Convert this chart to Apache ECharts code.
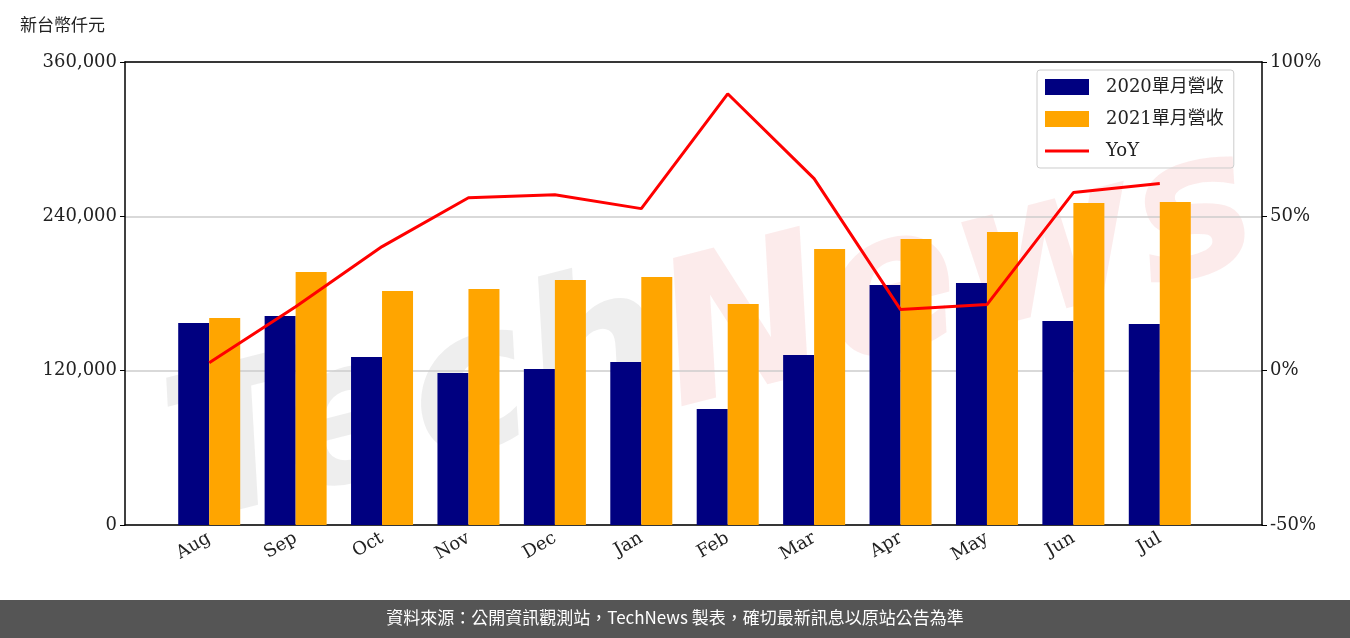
<!DOCTYPE html><html><head><meta charset="utf-8">
<script src="https://cdn.jsdelivr.net/npm/echarts@6/dist/echarts.min.js"></script>
<style>body{margin:0}#c{width:1350px;height:638px}</style></head><body><div id="c"></div>
<script>
const categories=['Aug','Sep','Oct','Nov','Dec','Jan','Feb','Mar','Apr','May','Jun','Jul'];
const rev2020=[157000,162500,130600,118200,121300,126700,90200,132200,186600,188200,158600,156300];
const rev2021=[161000,196700,181900,183500,190500,192800,171800,214600,222400,227800,250400,251100];
const yoy=[2.6,20.7,40.2,56,57,52.5,89.7,62.2,19.8,21.4,57.7,60.6];
const f="'DejaVu Serif','Noto Sans CJK TC',serif";
const c=echarts.init(document.getElementById('c'));
c.setOption({
 animation:false,
 textStyle:{fontFamily:f},
 graphic:[
  {type:'text',left:150,top:250,rotation:0.25,z:-1,style:{text:'Tech',fill:'rgba(120,120,120,0.13)',font:"bold italic 200px 'DejaVu Sans'"}},
  {type:'text',left:640,top:110,rotation:0.25,z:-1,style:{text:'News',fill:'rgba(230,90,90,0.12)',font:"bold italic 200px 'DejaVu Sans'"}},
  {type:'rect',left:0,top:600,shape:{width:1350,height:38},style:{fill:'#555'}},
  {type:'text',left:'center',top:609,style:{text:'資料來源：公開資訊觀測站，TechNews 製表，確切最新訊息以原站公告為準',fill:'#fff',font:"17px 'Noto Sans CJK TC'"}},
  {type:'text',left:20,top:16,style:{text:'新台幣仟元',fill:'#222',font:"17px 'Noto Sans CJK TC'"}}
 ],
 grid:[{left:125,right:88,top:62,bottom:113},{left:166,right:147,top:62,bottom:113}],
 legend:{left:1037,top:70,orient:'vertical',itemWidth:44,itemHeight:16,itemGap:14,borderColor:'#ccc',borderWidth:1,borderRadius:3,padding:[8,10,8,8],
  textStyle:{fontSize:18,fontFamily:"'DejaVu Serif','Noto Sans CJK TC'",color:'#222',padding:[0,0,0,12]},
  data:[{name:'2020單月營收',icon:'rect'},{name:'2021單月營收',icon:'rect'},{name:'YoY',icon:'path://M0,7h44v3h-44z'}]},
 xAxis:[
  {type:'category',gridIndex:0,data:categories,axisTick:{show:false},axisLabel:{show:false},axisLine:{onZero:false,lineStyle:{color:'#000',width:1.5}}},
  {type:'category',gridIndex:0,position:'top',data:categories,axisTick:{show:false},axisLabel:{show:false},axisLine:{onZero:false,lineStyle:{color:'#000',width:1.5}}},
  {type:'category',gridIndex:1,data:categories,axisTick:{alignWithLabel:true,length:5,lineStyle:{color:'#000'}},axisLine:{show:false,onZero:false},
  axisLabel:{rotate:30,fontSize:18,color:'#222',margin:12}}],
 yAxis:[{type:'value',gridIndex:0,min:0,max:360000,interval:120000,axisLine:{show:true,onZero:false,lineStyle:{color:'#000',width:1.5}},axisTick:{show:true,lineStyle:{color:'#000'}},
   axisLabel:{fontSize:18,color:'#222',formatter:v=>v.toLocaleString('en-US')},splitLine:{lineStyle:{color:'#ccc',width:1.5}}},
  {type:'value',gridIndex:0,min:-50,max:100,interval:50,axisLine:{show:true,onZero:false,lineStyle:{color:'#000',width:1.5}},axisTick:{show:true,lineStyle:{color:'#000'}},
   axisLabel:{fontSize:18,color:'#222',formatter:'{value}%'},splitLine:{show:false}},
  {type:'value',gridIndex:1,min:0,max:360000,show:false},
  {type:'value',gridIndex:1,min:-50,max:100,show:false}],
 series:[
  {name:'2020單月營收',type:'bar',xAxisIndex:2,yAxisIndex:2,data:rev2020,barWidth:31,barGap:'0%',itemStyle:{color:'#000080'}},
  {name:'2021單月營收',type:'bar',xAxisIndex:2,yAxisIndex:2,data:rev2021,barWidth:31,itemStyle:{color:'#FFA500'}},
  {name:'YoY',type:'line',xAxisIndex:2,yAxisIndex:3,data:yoy,symbol:'none',itemStyle:{color:'#ff0000'},lineStyle:{color:'#ff0000',width:3}}
 ]
});
</script></body></html>
